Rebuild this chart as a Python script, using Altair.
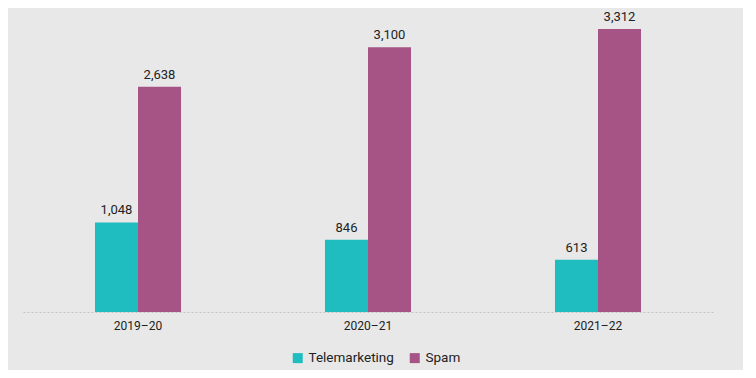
import altair as alt
import pandas as pd

years = ["2019–20", "2020–21", "2021–22"]
telemarketing = [1048, 846, 613]
spam = [2638, 3100, 3312]
series = ["Telemarketing", "Spam"]
colors = ["#1fbdbf", "#a65486"]

rows = []
for i, y in enumerate(years):
    rows.append({"year": y, "series": "Telemarketing", "value": telemarketing[i]})
    rows.append({"year": y, "series": "Spam", "value": spam[i]})
df = pd.DataFrame(rows)
df["label"] = df["value"].map(lambda v: f"{v:,}")

FONT = "Roboto"

x = alt.X("year:N", sort=years, title=None,
          scale=alt.Scale(paddingInner=0.626, paddingOuter=0.313),
          axis=alt.Axis(labelAngle=0, ticks=False, domainColor="#c4c4c4",
                        domainDash=[2, 2], labelFontSize=12, labelColor="#222",
                        labelPadding=8, labelFont=FONT))
xo = alt.XOffset("series:N", sort=series)
y = alt.Y("value:Q", scale=alt.Scale(domain=[0, 3500]), axis=None)

bars = alt.Chart(df).mark_bar().encode(
    x=x, xOffset=xo, y=y,
    color=alt.Color("series:N", sort=series,
                    scale=alt.Scale(domain=series, range=colors),
                    legend=alt.Legend(title=None, orient="none", direction="horizontal",
                                      legendX=268, legendY=338,
                                      symbolType="square", symbolSize=100,
                                      symbolStrokeWidth=0,
                                      labelFontSize=13.5, labelFont=FONT, labelColor="#222",
                                      columnPadding=14))
)
text = alt.Chart(df).mark_text(dy=-12, fontSize=13, font=FONT, color="#222").encode(
    x=x, xOffset=xo, y=y, text="label:N"
)

chart = alt.layer(bars, text).properties(
    width=690, height=299, background="#e8e8e8",
    padding={"left": 15, "top": 3, "right": 30, "bottom": 5}
).configure_view(stroke=None)

chart.save("out.html", embed_options={"renderer": "svg", "actions": False})
